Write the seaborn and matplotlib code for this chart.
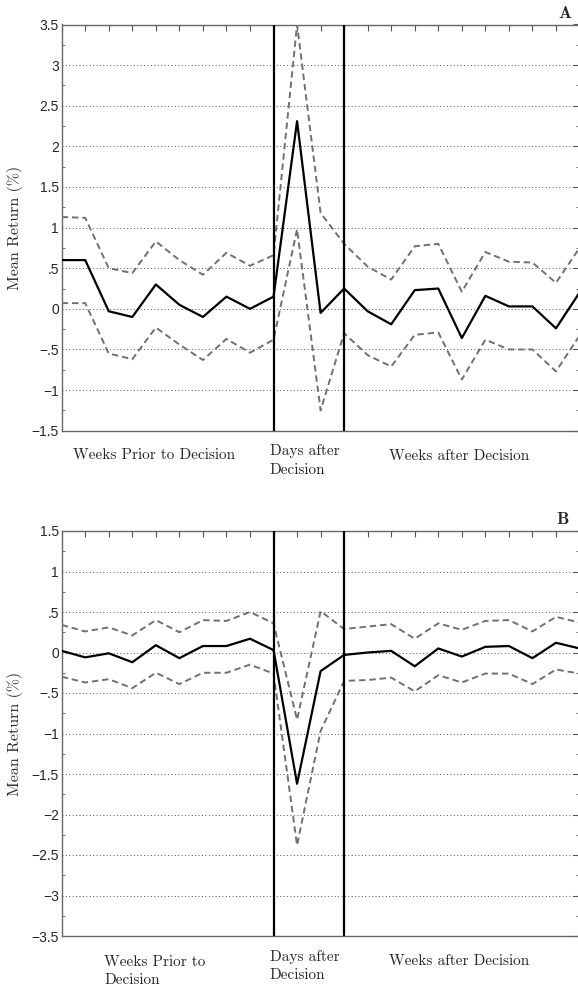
import numpy as np
import pandas as pd
import matplotlib
matplotlib.use("Agg")
import matplotlib.pyplot as plt
import seaborn as sns
from matplotlib.ticker import FuncFormatter, MultipleLocator

# Дані: середня дохідність та довірчі межі
periods = list(range(23))

a_mean = [0.60, 0.60, -0.03, -0.10, 0.30, 0.05, -0.10, 0.15, 0.00, 0.15, 2.31, -0.05,
          0.25, -0.03, -0.19, 0.23, 0.25, -0.36, 0.16, 0.03, 0.03, -0.24, 0.20]
a_upper = [1.13, 1.12, 0.50, 0.44, 0.83, 0.60, 0.42, 0.69, 0.53, 0.66, 3.50, 1.18,
           0.80, 0.52, 0.36, 0.77, 0.80, 0.21, 0.70, 0.58, 0.57, 0.32, 0.75]
a_lower = [0.07, 0.07, -0.55, -0.62, -0.23, -0.44, -0.63, -0.37, -0.54, -0.38, 0.98, -1.25,
           -0.30, -0.57, -0.71, -0.32, -0.29, -0.87, -0.38, -0.50, -0.50, -0.77, -0.33]

b_mean = [0.02, -0.06, -0.01, -0.12, 0.09, -0.07, 0.08, 0.08, 0.17, 0.03, -1.62, -0.23,
          -0.03, 0.00, 0.02, -0.17, 0.05, -0.05, 0.07, 0.08, -0.07, 0.12, 0.05]
b_upper = [0.34, 0.26, 0.31, 0.21, 0.40, 0.25, 0.40, 0.39, 0.50, 0.36, -0.83, 0.51,
           0.29, 0.32, 0.35, 0.17, 0.36, 0.28, 0.39, 0.40, 0.26, 0.44, 0.37]
b_lower = [-0.30, -0.37, -0.33, -0.44, -0.25, -0.39, -0.25, -0.25, -0.15, -0.26, -2.38, -0.97,
           -0.35, -0.34, -0.31, -0.48, -0.28, -0.37, -0.26, -0.26, -0.39, -0.21, -0.26]

decision_bounds = [9, 12]

sns.set_style("white")
plt.rcParams["font.family"] = ["Liberation Sans", "DejaVu Sans"]
plt.rcParams["axes.unicode_minus"] = True

serif = ["cmr10", "DejaVu Serif"]
serif_bold = ["cmb10", "DejaVu Serif"]


def tick_fmt(v, pos):
    if abs(v) < 1e-9:
        return "0"
    s = f"{abs(v):g}"
    if s.startswith("0."):
        s = s[1:]
    return ("\u2212" if v < 0 else "") + s


fig = plt.figure(figsize=(5.78, 9.86), dpi=100)
W, H = 578.0, 986.0
x0 = 61.7
x_right = 579.5

panels = [
    dict(data=(a_mean, a_upper, a_lower), top=24.5, bottom=430.7, ylim=(-1.5, 3.5), letter="A",
         letter_xy=(565, 14),
         labels=[("Weeks Prior to Decision", 0.47, 24.3),
                 ("Days after\nDecision", 8.83, 29.6),
                 ("Weeks after Decision", 13.9, 25.3)]),
    dict(data=(b_mean, b_upper, b_lower), top=531.0, bottom=936.0, ylim=(-3.5, 1.5), letter="B",
         letter_xy=(563, 519),
         labels=[("Weeks Prior to\nDecision", 1.81, 35.0),
                 ("Days after\nDecision", 8.83, 30.0),
                 ("Weeks after Decision", 13.9, 25.6)]),
]

for p in panels:
    ax = fig.add_axes([x0 / W, 1 - p["bottom"] / H, (x_right - x0) / W, (p["bottom"] - p["top"]) / H])
    mean, upper, lower = p["data"]
    df = pd.DataFrame({"period": periods, "mean": mean, "upper": upper, "lower": lower})

    for col in ["upper", "lower"]:
        sns.lineplot(data=df, x="period", y=col, ax=ax, color="#707070", lw=1.4,
                     linestyle=(0, (3.3, 2.0)), zorder=3)
    sns.lineplot(data=df, x="period", y="mean", ax=ax, color="black", lw=1.6, zorder=4)
    for b in decision_bounds:
        ax.axvline(b, color="black", lw=1.6, zorder=5)

    ax.set_xlim(0, 22)
    ax.set_ylim(*p["ylim"])
    ax.set_xticks(periods)
    ax.set_xticklabels([])
    ax.yaxis.set_major_locator(MultipleLocator(0.5))
    ax.yaxis.set_minor_locator(MultipleLocator(0.25))
    ax.yaxis.set_major_formatter(FuncFormatter(tick_fmt))
    ax.tick_params(axis="both", which="major", direction="in", length=4, width=0.8,
                   color="#555555", top=True, right=True, labelsize=10, pad=2)
    ax.tick_params(axis="y", which="minor", direction="in", length=2.2, width=0.6,
                   color="#555555", left=True, right=True)
    ax.grid(axis="y", which="major", color="#555555", lw=0.7, linestyle=(0, (1, 2.5)))
    for s in ax.spines.values():
        s.set_color("#666666")
        s.set_linewidth(1.0)
    ax.set_xlabel("")
    ax.set_ylabel("")

    for text, xpos, dy in p["labels"]:
        ax.annotate(text, xy=(xpos, 0), xycoords=("data", "axes fraction"),
                    xytext=(0, -dy * 0.72), textcoords="offset points",
                    ha="left", va="center", fontsize=11, family=serif, linespacing=1.45,
                    annotation_clip=False)

    yc = (p["top"] + p["bottom"]) / 2
    fig.text(15 / W, 1 - yc / H, "Mean Return (%)", rotation=90, ha="center", va="center",
             fontsize=11.5, family=serif)
    lx, ly = p["letter_xy"]
    fig.text(lx / W, 1 - ly / H, p["letter"], ha="center", va="center", fontsize=12.5,
             family=serif_bold)

fig.savefig("out.png", dpi=100)
plt.close()
